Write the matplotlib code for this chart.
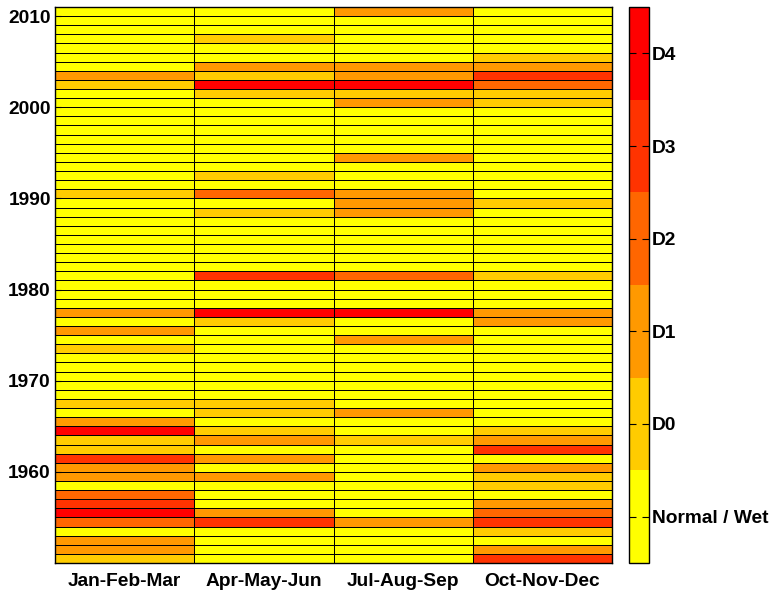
import numpy as np
import matplotlib
matplotlib.use("Agg")
import matplotlib.pyplot as plt
from matplotlib.colors import ListedColormap, BoundaryNorm

plt.rcParams['font.family'] = ['Liberation Sans', 'DejaVu Sans']
plt.rcParams['font.weight'] = 'bold'

seasons = ["Jan-Feb-Mar", "Apr-May-Jun", "Jul-Aug-Sep", "Oct-Nov-Dec"]
years = list(range(1950, 2011))
level_labels = ["Normal / Wet", "D0", "D1", "D2", "D3", "D4"]
level_colors = ["#FFFF00", "#FFCC00", "#FF9900", "#FF6600", "#FF3300", "#FF0000"]
year_ticks = [1960, 1970, 1980, 1990, 2000, 2010]

# drought category per year (1950 -> 2010), per season
jan_feb_mar = [1, 2, 2, 0, 3, 5, 4, 3, 0, 2, 2, 4, 1, 1, 5, 2, 0, 1, 0, 0,
               0, 0, 0, 1, 0, 2, 0, 2, 0, 0, 0, 0, 0, 0, 0, 0, 0, 0, 0, 0,
               1, 0, 0, 0, 0, 0, 0, 0, 0, 0, 0, 0, 1, 2, 0, 0, 0, 0, 0, 0,
               0]
apr_may_jun = [0, 0, 0, 0, 4, 2, 0, 0, 0, 2, 0, 2, 0, 2, 1, 0, 1, 1, 0, 0,
               0, 0, 0, 0, 0, 0, 1, 5, 0, 0, 0, 4, 0, 0, 0, 0, 0, 0, 1, 0,
               3, 0, 1, 0, 0, 0, 0, 0, 0, 0, 0, 1, 5, 1, 2, 0, 0, 1, 0, 0,
               0]
jul_aug_sep = [0, 0, 0, 0, 2, 0, 0, 0, 0, 0, 0, 0, 0, 1, 0, 0, 2, 0, 0, 0,
               0, 0, 0, 0, 2, 0, 0, 5, 0, 0, 0, 3, 0, 0, 0, 0, 0, 0, 2, 2,
               2, 0, 0, 0, 2, 0, 0, 0, 0, 0, 2, 1, 5, 2, 2, 0, 0, 0, 0, 0,
               2]
oct_nov_dec = [4, 2, 0, 1, 4, 3, 2, 0, 1, 1, 2, 0, 4, 2, 1, 0, 0, 0, 0, 0,
               0, 0, 0, 0, 0, 0, 2, 2, 0, 0, 0, 1, 0, 0, 0, 0, 0, 0, 0, 1,
               0, 0, 0, 0, 0, 0, 0, 0, 0, 0, 1, 1, 3, 4, 2, 1, 0, 0, 0, 0,
               0]

data = np.array([jan_feb_mar, apr_may_jun, jul_aug_sep, oct_nov_dec]).T

FS = 13.8

fig = plt.figure(figsize=(7.73, 5.90), dpi=100)
ax = fig.add_axes([55/773, 1-563/590, (612-55)/773, (563-7)/590])

cmap = ListedColormap(level_colors)
norm = BoundaryNorm(np.arange(-0.5, len(level_colors) + 0.5, 1), cmap.N)

x_edges = np.arange(len(seasons) + 1)
y_edges = np.arange(years[0], years[-1] + 2)
mesh = ax.pcolormesh(x_edges, y_edges, data, cmap=cmap, norm=norm,
                     edgecolors='black', linewidth=0.5)

ax.set_xlim(0, len(seasons))
ax.set_ylim(years[0], years[-1] + 1)
ax.set_xticks(np.arange(len(seasons)) + 0.5)
ax.set_xticklabels(seasons, fontsize=FS, fontweight='bold')
ax.set_yticks(year_ticks)
ax.set_yticklabels([str(y) for y in year_ticks], fontsize=FS, fontweight='bold')
ax.tick_params(axis='both', direction='in', length=4, width=0.8, pad=3)
ax.tick_params(axis='x', length=0, pad=7)
for s in ax.spines.values():
    s.set_linewidth(1.0)

cax = fig.add_axes([629/773, 1-563/590, 20/773, (563-7)/590])
cb = fig.colorbar(mesh, cax=cax, ticks=range(len(level_labels)))
cb.set_ticklabels(level_labels)
cb.outline.set_linewidth(1.0)
cax.minorticks_off()
cax.tick_params(axis='y', which='major', direction='in', length=5, width=0.8,
                left=True, right=True, labelsize=FS, pad=2)
for lbl in cax.get_yticklabels():
    lbl.set_fontweight('bold')

fig.savefig("out.png", dpi=100)
